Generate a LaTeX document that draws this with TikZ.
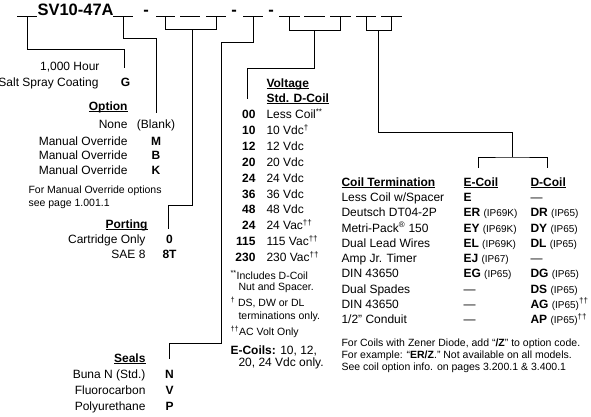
\documentclass[tikz,border=0pt]{standalone}
\usepackage{fontspec}
\setmainfont{Liberation Sans}
\newcommand{\ipcode}[1]{{\fontsize{10}{12}\selectfont(#1)}}
\newcommand{\uhead}[1]{\setbox0\hbox{\bfseries #1}\rlap{\rule[-1.8pt]{\wd0}{0.9pt}}\box0}

\begin{document}
\begin{tikzpicture}[x=1pt,y=-1pt,line width=1pt,
  txt/.style={inner sep=0pt,font=\fontsize{12}{14}\selectfont},
  code/.style={inner sep=0pt,font=\fontsize{12}{14}\selectfont\bfseries},
  note/.style={inner sep=0pt,font=\fontsize{10.5}{12}\selectfont}]
  \useasboundingbox (0,0) rectangle (591,416);
  % model code and blanks
  \node[inner sep=0pt,anchor=base west,font=\fontsize{16.5}{18}\selectfont\bfseries] (model) at (37,15.5) {SV10-47A};
  \foreach \x in {146,234,271}
    \node[inner sep=0pt,anchor=base,font=\fontsize{16.5}{18}\selectfont\bfseries] at (\x,15.5) {-};
  \foreach \a/\b [count=\i] in {17/37,113/133,156/175,180/200,206/226,243/263,279/300,304/325,330/351,356/376,381/402}
    \draw[line width=0.9pt] (\a,16) -- (\b,16) coordinate[pos=.5] (blank\i);
  \coordinate (gEnd) at (124,68);
  \coordinate (optEnd) at (156,113);
  \coordinate (portMid) at (192,29);
  \coordinate (portEnd) at (168,229);
  \coordinate (sealEnd) at (169,359);
  \coordinate (voltMid) at (314,30);
  \coordinate (voltEnd) at (247,99);
  \coordinate (coilMid) at (378,30);
  \coordinate (coilFork) at (512,157);
  \coordinate (eTop) at (478,168);
  \coordinate (dTop) at (547,168);
  \draw (blank1) -- ++(0,33) -| (gEnd);
  \draw (blank2) -- ++(0,22) -| (optEnd);
  \draw (blank3) -- ++(0,13) -| (blank5);
  \draw (portMid) -- ++(0,176) -| (portEnd);
  \draw (blank6) -- ++(0,26) -| ++(-32,301) -| (sealEnd);
  \draw (blank7) -- ++(0,14) -| (blank9);
  \draw (voltMid) -- ++(0,38) -| (voltEnd);
  \draw (blank10) -- ++(0,14) -| (blank11);
  \draw (coilMid) -- ++(0,102) -| (coilFork);
  \draw (eTop) |- (coilFork) -| (dTop);
  % coating
  \node[txt,anchor=base east] (hour) at (100,70.5) {1,000 Hour};
  \node[txt,anchor=base east] (salt) at (99,86.5) {Salt Spray Coating};
  \node[code,anchor=base] (g) at (125.5,86.5) {G};
  % option
  \node[txt,anchor=base east] (opt) at (128,110.5) {\uhead{Option}};
  \node[txt,anchor=base east] (none) at (128,128.5) {None};
  \node[txt,anchor=base] (blank) at (156,128.5) {(Blank)};
  \foreach \c/\y in {M/145.5,B/159.5,K/174.5} {
    \node[txt,anchor=base east] at (128,\y) {Manual Override};
    \node[code,anchor=base] (opt\c) at (156,\y) {\c};
  }
  \node[note,anchor=base west] (mo1) at (28,193) {For Manual Override options};
  \node[note,anchor=base west] (mo2) at (28,206) {see page 1.001.1};
  % porting
  \node[txt,anchor=base east] (port) at (148,228.5) {\uhead{Porting}};
  \node[txt,anchor=base east] (cart) at (146,243.5) {Cartridge Only};
  \node[code,anchor=base] (p0) at (169.5,243.5) {0};
  \node[txt,anchor=base east] (sae) at (146,258.5) {SAE 8};
  \node[code,anchor=base] (p8) at (169.5,258.5) {8T};
  % seals
  \node[txt,anchor=base east] (seal) at (146,362.5) {\uhead{Seals}};
  \foreach \t/\c/\y in {Buna N (Std.)/N/378.5,Fluorocarbon/V/394.5,Polyurethane/P/410.5} {
    \node[txt,anchor=base east] at (146,\y) {\t};
    \node[code,anchor=base] (seal\c) at (169.5,\y) {\c};
  }
  % voltage
  \node[txt,anchor=base west] (volt) at (266,87.5) {\uhead{Voltage}};
  \node[txt,anchor=base west] (std) at (266,102.5) {\uhead{Std. D-Coil}};
  \foreach \c/\v [count=\i from 0] in {00/Less Coil\textsuperscript{**},10/10 Vdc\textsuperscript{†},12/12 Vdc,20/20 Vdc,24/24 Vdc,36/36 Vdc,48/48 Vdc,24/24 Vac\textsuperscript{††},115/115 Vac\textsuperscript{††},230/230 Vac\textsuperscript{††}} {
    \node[code,anchor=base east] (vc\i) at (256,118.5+15.9*\i) {\c};
    \node[txt,anchor=base west] (vv\i) at (266,118.5+15.9*\i) {\v};
  }
  \node[note,anchor=base west] (n1) at (230,279) {\textsuperscript{**}Includes D-Coil};
  \node[note,anchor=base west] (n2) at (238,290) {Nut and Spacer.};
  \node[note,anchor=base west] (n3) at (230,306) {\textsuperscript{†} DS, DW or DL};
  \node[note,anchor=base west] (n4) at (238,319) {terminations only.};
  \node[note,anchor=base west] (n5) at (230,335) {\textsuperscript{††}AC Volt Only};
  \node[txt,anchor=base west] (n6) at (230,354.5) {\textbf{E-Coils:} 10, 12,};
  \node[txt,anchor=base west] (n7) at (238,366.5) {20, 24 Vdc only.};
  % coil termination
  \node[txt,anchor=base west] (term) at (341,186.5) {\uhead{Coil Termination}};
  \node[txt,anchor=base west] (ecoil) at (463,186.5) {\uhead{E-Coil}};
  \node[txt,anchor=base west] (dcoil) at (530,186.5) {\uhead{D-Coil}};
  \foreach \t/\e/\d [count=\i from 0] in {
    {Less Coil w/Spacer}/\textbf{E}/—,
    Deutsch DT04-2P/{\textbf{ER} \ipcode{IP69K}}/{\textbf{DR} \ipcode{IP65}},
    Metri-Pack\textsuperscript{®} 150/{\textbf{EY} \ipcode{IP69K}}/{\textbf{DY} \ipcode{IP65}},
    Dual Lead Wires/{\textbf{EL} \ipcode{IP69K}}/{\textbf{DL} \ipcode{IP65}},
    Amp Jr. Timer/{\textbf{EJ} \ipcode{IP67}}/—,
    DIN 43650/{\textbf{EG} \ipcode{IP65}}/{\textbf{DG} \ipcode{IP65}},
    Dual Spades/—/{\textbf{DS} \ipcode{IP65}},
    DIN 43650/—/{\textbf{AG} \ipcode{IP65}\textsuperscript{††}},
    {1/2\symbol{34} Conduit}/—/{\textbf{AP} \ipcode{IP65}\textsuperscript{††}}} {
    \node[txt,anchor=base west] (ct\i) at (341,201.5+15.25*\i) {\t};
    \node[txt,anchor=base west] (ce\i) at (463,201.5+15.25*\i) {\e};
    \node[txt,anchor=base west] (cd\i) at (530,201.5+15.25*\i) {\d};
  }
  \node[note,anchor=base west] (z1) at (341,346) {For Coils with Zener Diode, add “\textbf{/Z}” to option code.};
  \node[note,anchor=base west] (z2) at (341,358) {For example: “\textbf{ER/Z}.” Not available on all models.};
  \node[note,anchor=base west] (z3) at (341,370) {See coil option info. on pages 3.200.1 \& 3.400.1};
\end{tikzpicture}
\end{document}
